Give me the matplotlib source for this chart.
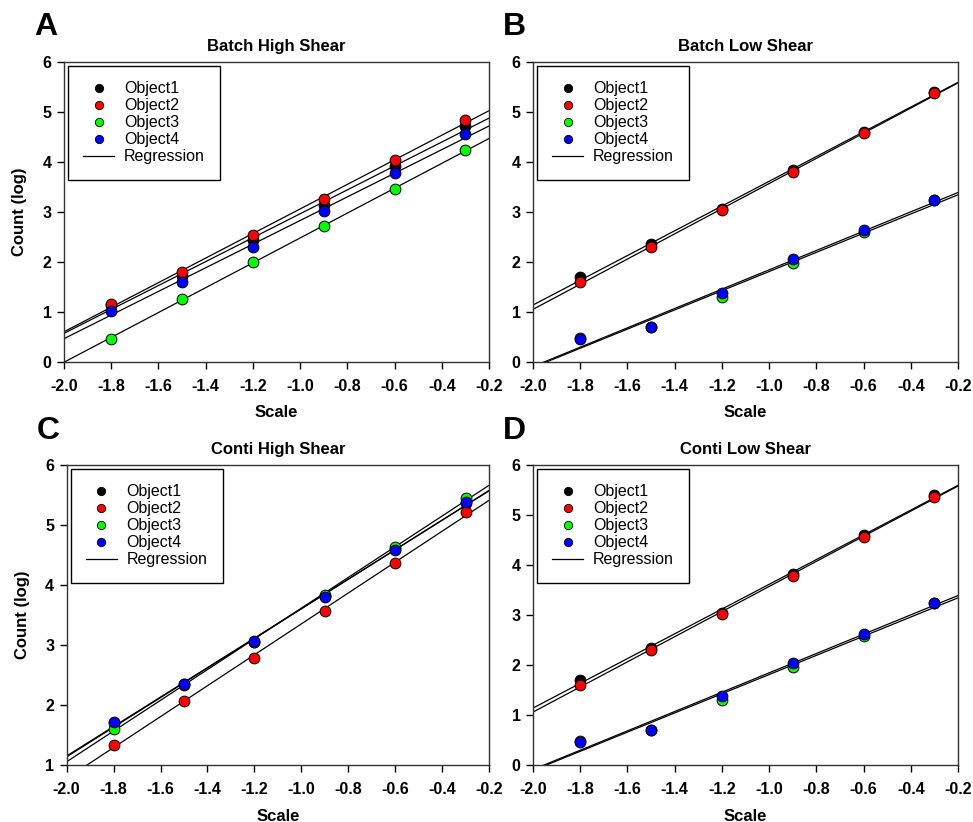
import numpy
from matplotlib import pyplot
from matplotlib.lines import Line2D

pyplot.rcParams["font.family"] = ["Liberation Sans", "DejaVu Sans"]

scale = [-1.8, -1.5, -1.2, -0.9, -0.6, -0.3]
names = ["Object1", "Object2", "Object3", "Object4"]
colours = ["#000000", "#FF0000", "#00FF00", "#0000FF"]

# Panel data (log counts)
batch_high = {
    "Object1": [1.15, 1.72, 2.43, 3.14, 3.92, 4.71],
    "Object2": [1.17, 1.80, 2.53, 3.25, 4.04, 4.84],
    "Object3": [0.47, 1.27, 2.00, 2.71, 3.45, 4.24],
    "Object4": [1.03, 1.61, 2.29, 3.02, 3.77, 4.55],
}
batch_low = {
    "Object1": [1.71, 2.35, 3.05, 3.83, 4.60, 5.40],
    "Object2": [1.60, 2.30, 3.03, 3.79, 4.57, 5.37],
    "Object3": [0.48, 0.70, 1.30, 1.97, 2.59, 3.24],
    "Object4": [0.47, 0.70, 1.39, 2.05, 2.63, 3.24],
}
conti_high = {
    "Object1": [1.70, 2.34, 3.05, 3.82, 4.60, 5.37],
    "Object2": [1.34, 2.07, 2.78, 3.57, 4.37, 5.21],
    "Object3": [1.60, 2.35, 3.05, 3.84, 4.63, 5.45],
    "Object4": [1.72, 2.35, 3.06, 3.80, 4.58, 5.39],
}
conti_low = {
    "Object1": [1.71, 2.35, 3.05, 3.83, 4.60, 5.40],
    "Object2": [1.61, 2.30, 3.03, 3.79, 4.57, 5.37],
    "Object3": [0.48, 0.70, 1.30, 1.97, 2.59, 3.24],
    "Object4": [0.47, 0.70, 1.39, 2.05, 2.63, 3.24],
}

panels = [
    ("A", "Batch High Shear", batch_high, (0, 6), [0.0658, 0.5596, 0.4368, 0.3650]),
    ("B", "Batch Low Shear", batch_low, (0, 6), [0.5478, 0.5596, 0.4368, 0.3650]),
    ("C", "Conti High Shear", conti_high, (1, 6), [0.0685, 0.0693, 0.4342, 0.3650]),
    ("D", "Conti Low Shear", conti_low, (0, 6), [0.5478, 0.0693, 0.4368, 0.3650]),
]

fig = pyplot.figure(figsize=(9.73, 8.22), dpi=100)

for letter, title, data, ylim, pos in panels:
    ax = fig.add_axes(pos)
    xfit = numpy.array([-2.0, -0.2])
    for name in names:
        slope, icpt = numpy.polyfit(scale, data[name], 1)
        ax.plot(xfit, slope * xfit + icpt, color="black", linewidth=0.9, zorder=2)
    for name, c in zip(names, colours):
        ax.scatter(scale, data[name], s=60, color=c, edgecolor="black",
                   linewidth=0.7, zorder=3)

    ax.set_xlim(-2.0, -0.2)
    ax.set_ylim(*ylim)
    ax.set_xticks(numpy.arange(-2.0, -0.19, 0.2))
    ax.set_xticklabels([f"{v:.1f}" for v in numpy.arange(-2.0, -0.19, 0.2)])
    ax.set_yticks(range(ylim[0], ylim[1] + 1))
    ax.tick_params(axis="x", direction="out", length=5, width=1, labelsize=11.5,
                   top=False, pad=7.5)
    ax.tick_params(axis="y", direction="out", length=5, width=1, labelsize=11.5,
                   right=False, pad=4)
    for lab in ax.get_xticklabels() + ax.get_yticklabels():
        lab.set_fontweight("bold")
    for sp in ax.spines.values():
        sp.set_linewidth(1.0)
        sp.set_color("#333333")

    ax.set_title(title, fontsize=12, fontweight="bold", pad=8)
    ax.set_xlabel("Scale", fontsize=12, fontweight="bold", labelpad=8)
    if letter in ("A", "C"):
        ax.set_ylabel("Count (log)", fontsize=12, fontweight="bold", labelpad=11)

    handles = [Line2D([], [], linestyle="none", marker="o", markersize=6,
                      markerfacecolor=c, markeredgecolor="black",
                      markeredgewidth=0.6) for c in colours]
    handles.append(Line2D([], [], color="black", linewidth=0.9))
    leg = ax.legend(handles, names + ["Regression"], loc="upper left",
                    fontsize=11.5, frameon=True, fancybox=False, framealpha=1,
                    edgecolor="black", borderpad=0.95, labelspacing=0.13,
                    handlelength=1.95, handletextpad=0.6, borderaxespad=0.25)
    leg.get_frame().set_linewidth(1.0)

    ax.text(-0.07, 1.165, letter, transform=ax.transAxes, fontsize=23,
            fontweight="bold", va="top", ha="left")

fig.savefig("out.png", dpi=100)
